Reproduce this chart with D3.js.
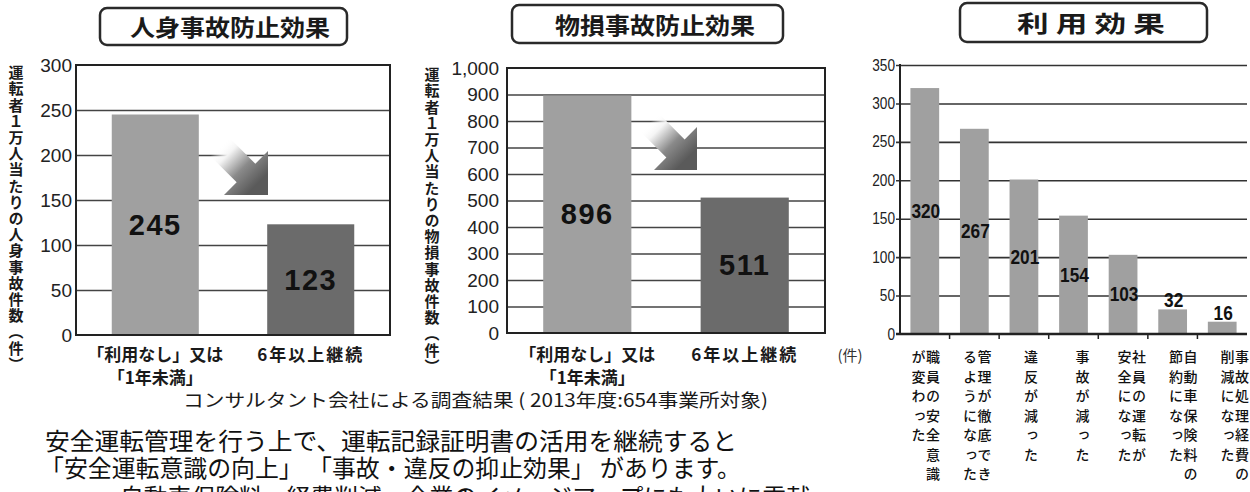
<!DOCTYPE html>
<html><head><meta charset="utf-8">
<script src="https://cdn.jsdelivr.net/npm/d3@7"></script>
<style>
body{margin:0;background:#fff;}
svg{display:block;}
</style></head><body>
<svg id="c" width="1250" height="492"></svg>
<script>
// ---------- data ----------
const titles = ["人身事故防止効果", "物損事故防止効果", "利 用 効 果"];
const groupCats = ["「利用なし」又は\n「1年未満」", "6年以上継続"];
const personValues = [245, 123];
const propertyValues = [896, 511];
const personTicks = [0, 50, 100, 150, 200, 250, 300];
const propertyTicks = [0, 100, 200, 300, 400, 500, 600, 700, 800, 900, 1000];
const personAxisTitle = "運転者１万人当たりの人身事故件数（件）";
const propertyAxisTitle = "運転者１万人当たりの物損事故件数（件）";
const effectCats = [
  ["職員の安全意識", "が変わった"],
  ["管理が徹底でき", "るようになった"],
  ["違反が減った"],
  ["事故が減った"],
  ["社員の運転が", "安全になった"],
  ["自動車保険料の", "節約になった"],
  ["事故処理経費の", "削減になった"]
];
const effectValues = [320, 267, 201, 154, 103, 32, 16];
const effectTicks = [0, 50, 100, 150, 200, 250, 300, 350];
const unitLabel = "(件)";
const sourceNote = "コンサルタント会社による調査結果 ( 2013年度:654事業所対象)";
const bodyLines = [
  "安全運転管理を行う上で、運転記録証明書の活用を継続すると",
  "「安全運転意識の向上」 「事故・違反の抑止効果」 があります。",
  "自動車保険料、経費削減、企業のイメージアップにも大いに貢献"
];

// ---------- style ----------
const JP = "'Noto Sans CJK JP','Noto Sans',sans-serif";
const NUM = "'Liberation Sans',Arial,sans-serif";
const barColors = ["#a0a0a0", "#6b6b6b"];

const svg = d3.select("#c");
const defs = svg.append("defs");

function titleBox(x, y, w, h, text, tl, baseline, cx) {
  svg.append("rect").attr("x", x).attr("y", y).attr("width", w).attr("height", h)
    .attr("rx", 7).attr("fill", "#fff").attr("stroke", "#2a2a2a").attr("stroke-width", 2.5);
  svg.append("text").attr("x", cx).attr("y", baseline).attr("text-anchor", "middle")
    .attr("font-family", JP).attr("font-weight", "bold").attr("font-size", 23).attr("fill", "#1a1a1a")
    .attr("textLength", tl).attr("lengthAdjust", "spacingAndGlyphs").text(text);
}

function vText(x, yTop, str, size, spacing, weight, color) {
  svg.append("text").attr("x", x).attr("y", yTop)
    .attr("writing-mode", "vertical-rl").style("text-orientation", "mixed")
    .style("letter-spacing", spacing + "px")
    .attr("font-family", JP).attr("font-weight", weight).attr("font-size", size)
    .attr("fill", color).text(str);
}

function arrow(id, tx, ty, L) {
  const s = Math.SQRT1_2;
  const M = [tx - L / 2, ty - L / 2];
  const h = 0.3 * L, S = 0.85 * L;
  const p = [s, -s], d = [-s, -s];
  const a = [M[0] + h * p[0], M[1] + h * p[1]];
  const b = [M[0] - h * p[0], M[1] - h * p[1]];
  const a2 = [a[0] + S * d[0], a[1] + S * d[1]];
  const b2 = [b[0] + S * d[0], b[1] + S * d[1]];
  const g = defs.append("linearGradient").attr("id", id).attr("gradientUnits", "userSpaceOnUse")
    .attr("x1", M[0] + S * d[0]).attr("y1", M[1] + S * d[1]).attr("x2", tx - L * 0.25).attr("y2", ty - L * 0.25);
  g.append("stop").attr("offset", 0).attr("stop-color", "#fff").attr("stop-opacity", 0);
  g.append("stop").attr("offset", 0.22).attr("stop-color", "#f4f4f4").attr("stop-opacity", 1);
  g.append("stop").attr("offset", 0.6).attr("stop-color", "#8a8a8a");
  g.append("stop").attr("offset", 1).attr("stop-color", "#5a5a5a");
  const path = d3.path();
  path.moveTo(tx, ty); path.lineTo(tx, ty - L); path.lineTo(a[0], a[1]); path.lineTo(a2[0], a2[1]);
  path.lineTo(b2[0], b2[1]); path.lineTo(b[0], b[1]); path.lineTo(tx - L, ty); path.closePath();
  svg.append("path").attr("d", path.toString()).attr("fill", `url(#${id})`);
}

function groupPanel(o) {
  const g = svg.append("g");
  const x = d3.scaleBand().domain(groupCats).range([o.left, o.right]).paddingInner(0.44).paddingOuter(0.23);
  const y = d3.scaleLinear().domain([0, o.max]).range([o.bottom, o.top]);
  const W = o.right - o.left;
  g.append("g").attr("transform", `translate(${o.left},0)`)
    .call(d3.axisLeft(y).tickValues(o.ticks.filter(t => t > 0 && t < o.max)).tickSize(-W).tickFormat(""))
    .call(s => { s.select(".domain").remove(); s.selectAll("line").attr("stroke", "#444").attr("stroke-width", 1.5); });
  g.selectAll("rect.bar").data(o.values).join("rect").attr("class", "bar")
    .attr("x", (d, i) => x(groupCats[i])).attr("y", d => y(d))
    .attr("width", x.bandwidth()).attr("height", d => o.bottom - y(d))
    .attr("fill", (d, i) => barColors[i]);
  g.append("rect").attr("x", o.left).attr("y", o.top).attr("width", W).attr("height", o.bottom - o.top)
    .attr("fill", "none").attr("stroke", "#222").attr("stroke-width", 2);
  g.append("g").attr("transform", `translate(${o.left - o.gap},0)`)
    .call(d3.axisLeft(y).tickValues(o.ticks).tickSize(0).tickPadding(0).tickFormat(o.fmt))
    .attr("font-family", NUM).attr("font-size", 19)
    .call(s => { s.select(".domain").remove(); s.selectAll("text").attr("fill", "#222"); });
  g.selectAll("text.val").data(o.values).join("text").attr("class", "val")
    .attr("x", (d, i) => x(groupCats[i]) + x.bandwidth() / 2)
    .attr("y", d => y(d / 2) + 10)
    .attr("text-anchor", "middle").attr("font-family", NUM).attr("font-weight", "bold")
    .attr("font-size", 29).style("letter-spacing", "1.5px").attr("fill", "#111").text(d => d);
  groupCats.forEach(c => {
    const lines = c.split("\n");
    const t = g.append("text").attr("text-anchor", "middle").attr("font-family", JP)
      .attr("font-weight", "bold").attr("font-size", 17).attr("fill", "#1a1a1a");
    lines.forEach((ln, j) => {
      t.append("tspan").attr("x", x(c) + x.bandwidth() / 2).attr("y", 361 + j * 23)
        .style("letter-spacing", lines.length > 1 ? "0px" : "2px").text(ln);
    });
  });
  return { x, y };
}

// ---------- panel 1 ----------
titleBox(100, 8, 247, 37, titles[0], 200, 36, 230);
groupPanel({ left: 76, right: 390, top: 65, bottom: 335, max: 300, ticks: personTicks, values: personValues, gap: 4, fmt: d3.format("d") });
vText(16, 65, personAxisTitle, 15, 1.2, "bold", "#1a1a1a");
arrow("ag1", 268, 195, 44);

// ---------- panel 2 ----------
titleBox(512, 5, 271, 38, titles[1], 200, 34, 655);
groupPanel({ left: 507, right: 825, top: 68, bottom: 333, max: 1000, ticks: propertyTicks, values: propertyValues, gap: 8, fmt: d3.format(",") });
vText(432, 67, propertyAxisTitle, 15, 1.2, "bold", "#1a1a1a");
arrow("ag2", 697, 170, 43);
svg.append("text").attr("x", 850).attr("y", 361).attr("text-anchor", "middle")
  .attr("font-family", JP).attr("font-size", 15).attr("fill", "#333").text(unitLabel);

// ---------- panel 3 ----------
titleBox(960, 3, 247, 39, titles[2], 148, 32, 1091);
(function () {
  const left = 900, right = 1247, top = 65, bottom = 334;
  const idx = effectValues.map((d, i) => i);
  const x = d3.scaleBand().domain(idx).range([left, right]).paddingInner(0.42).paddingOuter(0.21);
  const y = d3.scaleLinear().domain([0, 350]).range([bottom, top]);
  const g = svg.append("g");
  g.append("g").attr("transform", `translate(${left},0)`)
    .call(d3.axisLeft(y).tickValues(effectTicks.filter(t => t > 0)).tickSize(-(right - left) - 4).tickFormat(""))
    .call(s => { s.select(".domain").remove(); s.selectAll("line").attr("stroke", "#333").attr("stroke-width", 1.6).attr("transform", "translate(-4,0)"); });
  g.selectAll("rect.bar").data(effectValues).join("rect").attr("class", "bar")
    .attr("x", (d, i) => x(i)).attr("y", d => y(d)).attr("width", x.bandwidth())
    .attr("height", d => bottom - y(d)).attr("fill", "#a0a0a0");
  g.append("line").attr("x1", left).attr("x2", left).attr("y1", top - 1).attr("y2", bottom).attr("stroke", "#222").attr("stroke-width", 2);
  g.append("line").attr("x1", left - 4).attr("x2", right).attr("y1", bottom).attr("y2", bottom).attr("stroke", "#222").attr("stroke-width", 2.5);
  idx.slice(1).forEach(i => {
    const xx = left + x.step() * i;
    g.append("line").attr("x1", xx).attr("x2", xx).attr("y1", bottom).attr("y2", bottom + 5).attr("stroke", "#222").attr("stroke-width", 1.5);
  });
  g.append("g").attr("transform", `translate(${left - 5},0)`)
    .call(d3.axisLeft(y).tickValues(effectTicks).tickSize(0).tickPadding(0))
    .attr("font-family", NUM).attr("font-size", 16)
    .call(s => {
      s.select(".domain").remove();
      s.selectAll("text").attr("fill", "#222")
        .attr("textLength", d => String(d).length * 7.6).attr("lengthAdjust", "spacingAndGlyphs");
    });
  g.selectAll("text.val").data(effectValues).join("text").attr("class", "val")
    .attr("x", (d, i) => x(i) + x.bandwidth() / 2 + 1)
    .attr("y", d => d >= 50 ? y(d / 2) + 7 : y(d) - 2)
    .attr("text-anchor", "middle").attr("font-family", NUM).attr("font-weight", "bold")
    .attr("font-size", 21).attr("fill", "#111")
    .attr("textLength", d => String(d).length * 9.6).attr("lengthAdjust", "spacingAndGlyphs")
    .text(d => d);
  const lx = d3.scalePoint().domain(idx).range([926, 1235]);
  effectCats.forEach((cols, i) => {
    const c = lx(i);
    if (cols.length === 1) {
      vText(c + 2, 350, cols[0], 14, 5.5, "500", "#111");
    } else {
      vText(c + 7, 350, cols[0], 14, 5.5, "500", "#111");
      vText(c - 7.5, 350, cols[1], 14, 5.5, "500", "#111");
    }
  });
})();

// ---------- notes ----------
svg.append("text").attr("x", 183).attr("y", 407).attr("font-family", JP).attr("font-size", 18)
  .attr("fill", "#1a1a1a").attr("textLength", 585).attr("lengthAdjust", "spacingAndGlyphs").text(sourceNote);
svg.append("text").attr("x", 45).attr("y", 450).attr("font-family", JP).attr("font-size", 24)
  .attr("fill", "#111").attr("textLength", 692).attr("lengthAdjust", "spacingAndGlyphs").text(bodyLines[0]);
svg.append("text").attr("x", 40).attr("y", 477).attr("font-family", JP).attr("font-size", 24)
  .attr("fill", "#111").attr("textLength", 701).attr("lengthAdjust", "spacingAndGlyphs").text(bodyLines[1]);
svg.append("text").attr("x", 120).attr("y", 506).attr("font-family", JP).attr("font-size", 24)
  .attr("fill", "#111").attr("textLength", 690).attr("lengthAdjust", "spacingAndGlyphs").text(bodyLines[2]);
</script>
</body></html>
